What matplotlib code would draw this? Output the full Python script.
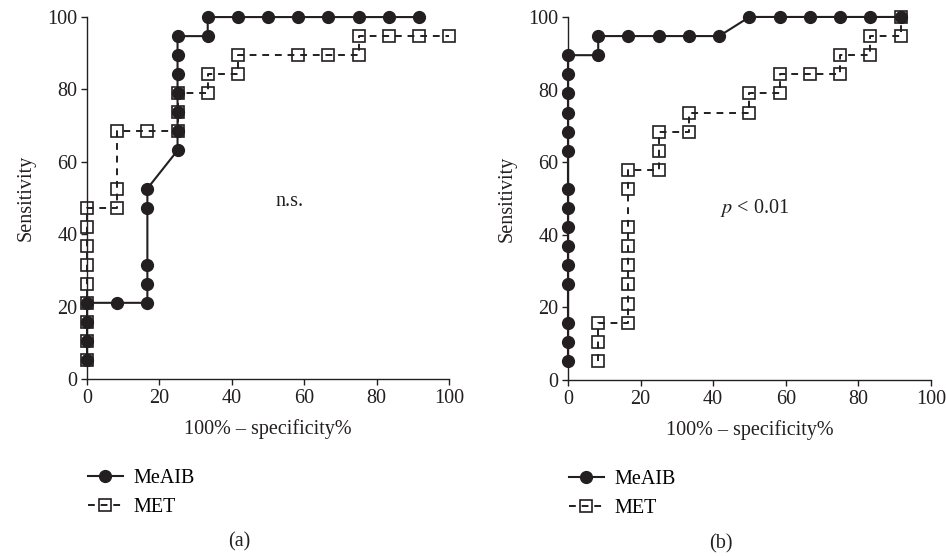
import numpy as np
import matplotlib
matplotlib.use("Agg")
import matplotlib.pyplot as plt

# data: steps of 1/12 (x) and 1/19 (y)
sx = 100 / 12
sy = 100 / 19

# panel (a)
a_meaib_x = [0, 0, 0, 0, 1, 2, 2, 2, 2, 2, 3, 3, 3, 3, 3, 3, 3, 4, 4, 5, 6, 7, 8, 9, 10, 11]
a_meaib_y = [1, 2, 3, 4, 4, 4, 5, 6, 9, 10, 12, 13, 14, 15, 16, 17, 18, 18, 19, 19, 19, 19, 19, 19, 19, 19]
a_met_x = [0, 0, 0, 0, 0, 0, 0, 0, 0, 1, 1, 1, 2, 3, 3, 3, 4, 4, 5, 5, 7, 8, 9, 9, 10, 11, 12]
a_met_y = [1, 2, 3, 4, 5, 6, 7, 8, 9, 9, 10, 13, 13, 13, 14, 15, 15, 16, 16, 17, 17, 17, 17, 18, 18, 18, 18]

# panel (b)
b_meaib_x = [0] * 15 + [1, 1, 2, 3, 4, 5, 6, 7, 8, 9, 10, 11]
b_meaib_y = [1, 2, 3, 5, 6, 7, 8, 9, 10, 12, 13, 14, 15, 16, 17,
             17, 18, 18, 18, 18, 18, 19, 19, 19, 19, 19, 19]
b_met_x = [1, 1, 1, 2, 2, 2, 2, 2, 2, 2, 2, 3, 3, 3, 4, 4, 6, 6, 7, 7, 8, 9, 9, 10, 10, 11, 11]
b_met_y = [1, 2, 3, 3, 4, 5, 6, 7, 8, 10, 11, 11, 12, 13, 13, 14, 14, 15, 15, 16, 16, 16, 17, 17, 18, 18, 19]

ticks = [0, 20, 40, 60, 80, 100]
dark = "#231f20"

plt.rcParams["font.family"] = ["Liberation Serif", "DejaVu Serif"]
plt.rcParams["mathtext.fontset"] = "stix"
plt.rcParams["font.size"] = 14.5

fig = plt.figure(figsize=(9.46, 5.56), dpi=100)
ax1 = fig.add_axes([0.092, 0.3183, 0.3827, 0.651])
ax2 = fig.add_axes([0.6004, 0.3165, 0.3837, 0.653])


def draw(ax, mx, my, tx, ty, note, nx, ny, panel):
    ax.plot(np.array(tx) * sx, np.array(ty) * sy, color=dark, lw=1.4, ls=(0, (3.5, 3)),
            marker="s", ms=8.5, mfc="none", mec=dark, mew=1.2, label="MET", clip_on=False)
    ax.plot(np.array(mx) * sx, np.array(my) * sy, color=dark, lw=1.5,
            marker="o", ms=8.5, mfc=dark, mec=dark, label="MeAIB", clip_on=False)
    ax.set_xlim(0, 100)
    ax.set_ylim(0, 100)
    ax.set_xticks(ticks)
    ax.set_yticks(ticks)
    ax.spines["top"].set_visible(False)
    ax.spines["right"].set_visible(False)
    for s in ["left", "bottom"]:
        ax.spines[s].set_color(dark)
        ax.spines[s].set_linewidth(1.0)
    ax.tick_params(direction="out", length=4, width=1, colors=dark, labelcolor=dark, pad=3)
    ax.set_xlabel("100% \u2013 specificity%", color=dark, labelpad=8)
    ax.set_ylabel("Sensitivity", color=dark, labelpad=8)
    ax.text(nx, ny, note, ha="center", va="center", color=dark)
    h, l = ax.get_legend_handles_labels()
    ax.legend(h[::-1], l[::-1], loc="upper left", bbox_to_anchor=(-0.02, -0.225),
              frameon=False, handlelength=1.75, handletextpad=0.5, labelspacing=0.5,
              borderaxespad=0)
    ax.text(0.42, -0.45, panel, transform=ax.transAxes, ha="center", va="center", color=dark)


draw(ax1, a_meaib_x, a_meaib_y, a_met_x, a_met_y, "n.s.", 56, 49, "(a)")
draw(ax2, b_meaib_x, b_meaib_y, b_met_x, b_met_y, "$\\it{p}$ < 0.01", 51.5, 47.4, "(b)")

fig.savefig("out.png", dpi=100)
